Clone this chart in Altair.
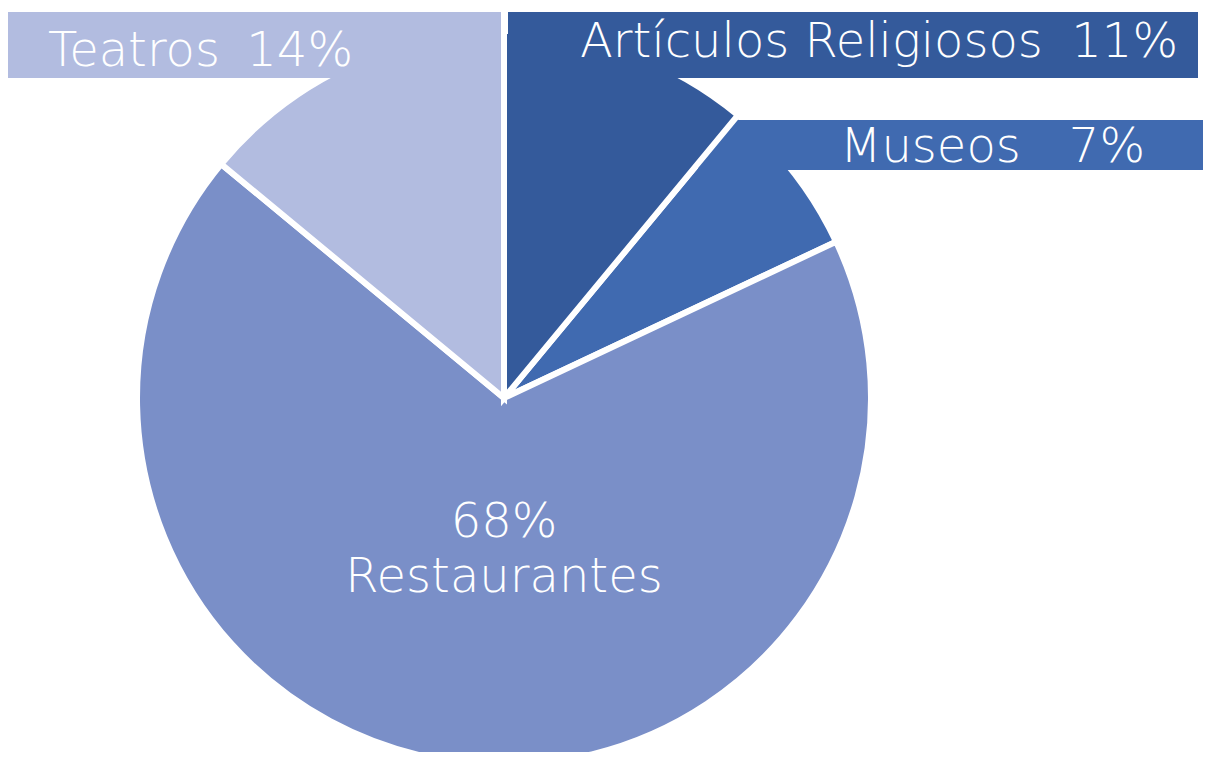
import altair as alt
import pandas as pd

# ---- data ----
categories = ["Artículos Religiosos", "Museos", "Restaurantes", "Teatros"]
values = [11, 7, 68, 14]
pct_labels = ["11%", "7%", "68%", "14%"]
colors = ["#345A9B", "#406AB0", "#7A8FC8", "#B2BCE0"]

# ---- layout (pixels in plot area) ----
W, H = 1195, 744
CX, CY, R = 496, 390, 367
FONT = "DejaVu Sans"
FS = 48

df = pd.DataFrame({"cat": categories, "value": values, "order": list(range(len(categories)))})

color_scale = alt.Scale(domain=categories, range=colors)

def pie(opacity_expr=None):
    enc = dict(
        theta=alt.Theta("value:Q", stack=True),
        order=alt.Order("order:Q"),
        color=alt.Color("cat:N", scale=color_scale, legend=None),
        x=alt.value(CX),
        y=alt.value(CY),
    )
    if opacity_expr is not None:
        enc["opacity"] = alt.condition(opacity_expr, alt.value(1), alt.value(0))
    return alt.Chart(df).mark_arc(outerRadius=R, stroke="white", strokeWidth=6).encode(**enc)

# label boxes (layout)
box_layout = {
    "Teatros": (0, 493, 4, 70),
    "Artículos Religiosos": (500, 1190, 4, 70),
    "Museos": (690, 1205, 112, 162),
}
boxes = pd.DataFrame([
    {"cat": c, "x": v[0], "x2": v[1], "y": v[2], "y2": v[3]} for c, v in box_layout.items()
])

def box_layer(cats):
    return alt.Chart(boxes[boxes["cat"].isin(cats)]).mark_rect().encode(
        x=alt.X("x:Q", scale=None), x2="x2:Q",
        y=alt.Y("y:Q", scale=None), y2="y2:Q",
        color=alt.Color("cat:N", scale=color_scale, legend=None),
    )

# text labels: (text, x, y, align)
text_layout = {
    "Teatros": [("name", 40, 58, "left"), ("pct", 345, 58, "right")],
    "Artículos Religiosos": [("name", 572, 49, "left"), ("pct", 1170, 49, "right")],
    "Museos": [("name", 832, 154, "left"), ("pct", 1137, 154, "right")],
    "Restaurantes": [("pct", 496, 529, "center"), ("name", 496, 584, "center")],
}
rows = []
for c, p in zip(categories, pct_labels):
    for kind, x, y, al in text_layout[c]:
        rows.append({"text": c if kind == "name" else p, "x": x, "y": y, "align": al})
labels = pd.DataFrame(rows)

def text_layer(al):
    return alt.Chart(labels[labels["align"] == al]).mark_text(
        font=FONT, fontSize=FS, fontWeight=200, color="white", align=al, baseline="alphabetic"
    ).encode(
        x=alt.X("x:Q", scale=None), y=alt.Y("y:Q", scale=None), text="text:N"
    )

chart = alt.layer(
    pie(),
    box_layer(["Museos"]),
    pie(alt.datum.cat == "Artículos Religiosos"),
    box_layer(["Teatros", "Artículos Religiosos"]),
    text_layer("left"),
    text_layer("right"),
    text_layer("center"),
).resolve_scale(color="shared").properties(
    width=W, height=H, padding=0, autosize="none"
).configure_view(stroke=None)

chart.save("out.html", embed_options={"renderer": "svg", "actions": False})
